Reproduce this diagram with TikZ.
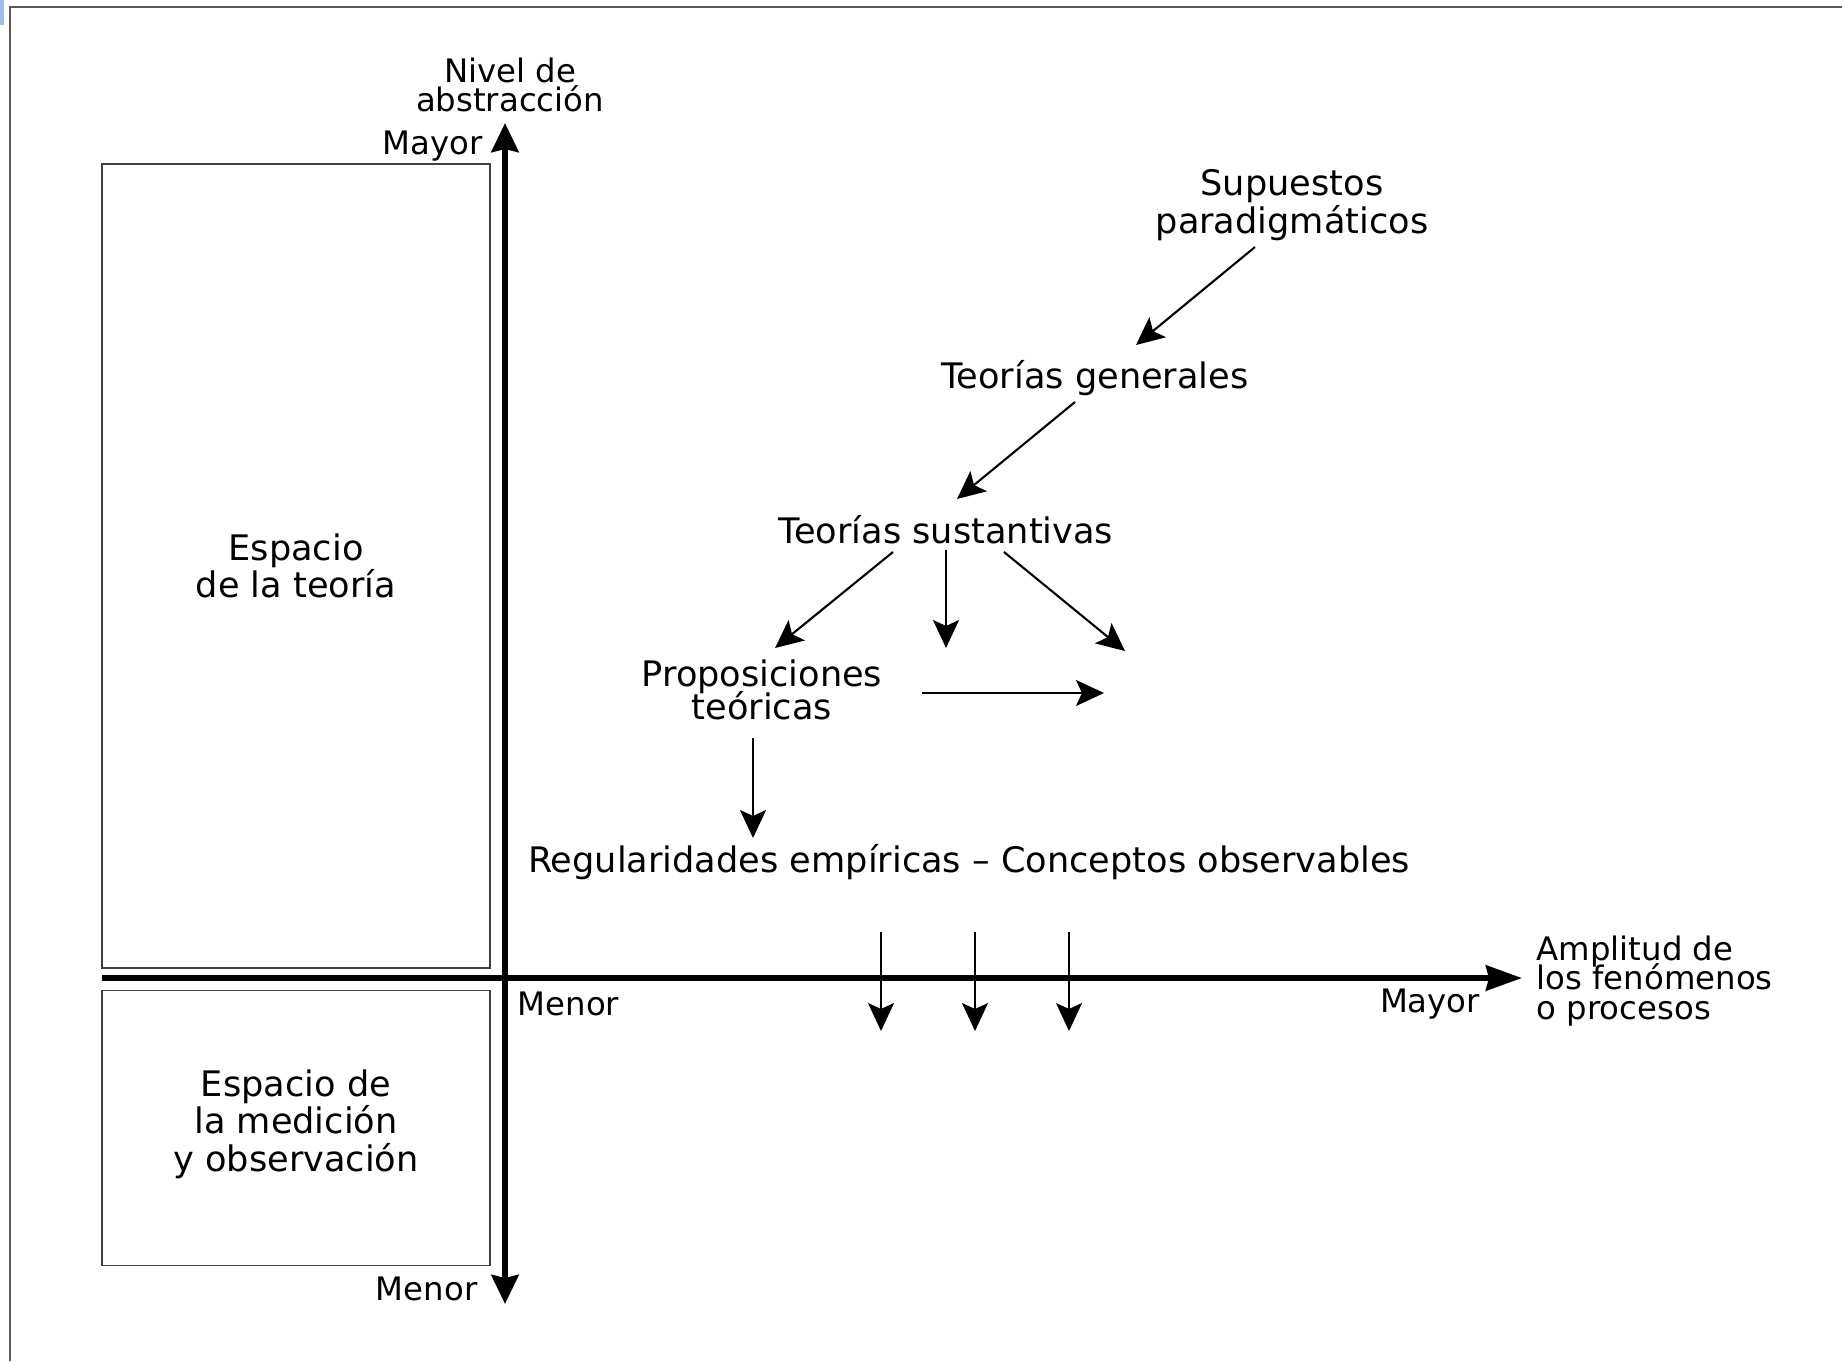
\documentclass[tikz,border=0pt]{standalone}
\usepackage{fontspec}
\setmainfont{DejaVu Sans}
\usepackage{tikz}
\usetikzlibrary{arrows.meta}
\definecolor{marco}{gray}{0.35}
\definecolor{celeste}{RGB}{160,190,230}
\newcommand\sinsalto{\lineskiplimit=-\maxdimen\relax}

\begin{document}
\begin{tikzpicture}[
  lbl/.style={align=center, inner sep=0pt, font=\fontsize{10}{10.7}\selectfont\sinsalto},
  axlbl/.style={inner sep=0pt, font=\fontsize{9.2}{8.3}\selectfont\sinsalto},
  caja/.style={draw=black!75, line width=0.5pt, inner sep=0pt},
  flecha/.style={-{Stealth[length=2.8mm,width=2.6mm,inset=0.6mm]}, line width=0.6pt},
  eje/.style={line width=1.7pt}]
\useasboundingbox (0,0) rectangle (18.42,13.61);
\fill[celeste] (0,13.61) rectangle (0.04,13.36);
\draw[marco, line width=0.6pt] (0.10,0) -- (0.10,13.54) -- (18.42,13.54);

% cajas
\node[caja, minimum width=3.88cm, minimum height=8.04cm] (teoria) at (2.96,7.95) {};
\node[caja, minimum width=3.88cm, minimum height=2.75cm] (medicion) at (2.96,2.33) {};
\node[lbl] (teotxt) at (2.96,7.95) {Espacio\\de la teoría};
\node[lbl] (medtxt) at (2.96,2.37) {Espacio de\\la medición\\y observación};

% ejes
\coordinate (vb) at (5.05,0.57);
\coordinate (vt) at (5.05,12.38);
\coordinate (hl) at (1.02,3.83);
\coordinate (hr) at (15.22,3.83);
\draw[eje, {Stealth[length=2.9mm,width=2.7mm,inset=0.3mm]}-{Stealth[length=2.9mm,width=2.7mm,inset=0.3mm]}] (vb) -- (vt);
\draw[eje, -{Stealth[length=3.6mm,width=2.5mm,inset=0.3mm]}] (hl) -- (hr);

\node[axlbl, align=center] (nivel) at (5.10,12.76) {Nivel de\\abstracción};
\node[axlbl, anchor=east] (mayorv) at (4.83,12.15) {Mayor};
\node[axlbl, anchor=east] (menorv) at (4.78,0.72) {Menor};
\node[axlbl, anchor=west] (menorh) at (5.17,3.57) {Menor};
\node[axlbl] (mayorh) at (14.30,3.57) {Mayor};
\node[axlbl, anchor=west, align=left] (amplitud) at (15.36,3.80) {Amplitud de\\los fenómenos\\o procesos};

% niveles
\node[lbl] (sup) at (12.92,11.56) {Supuestos\\paradigmáticos};
\node[lbl] (tgen) at (10.95,9.83) {Teorías generales};
\node[lbl] (tsus) at (9.46,8.31) {Teorías sustantivas};
\node[lbl, font=\fontsize{10}{9.4}\selectfont\sinsalto] (prop) at (7.62,6.71) {Proposiciones\\teóricas};
\node[lbl] (regul) at (9.69,4.99) {Regularidades empíricas – Conceptos observables};

% flechas
\coordinate (s1) at (12.55,11.14);
\coordinate (g0) at (11.36,10.16);
\coordinate (g1) at (10.75,9.59);
\coordinate (t0) at (9.57,8.62);
\coordinate (t1) at (8.93,8.09);
\coordinate (p0) at (7.75,7.13);
\coordinate (t2) at (9.46,8.11);
\coordinate (d0) at (9.46,7.13);
\coordinate (t3) at (10.04,8.09);
\coordinate (d1) at (11.25,7.10);
\coordinate (p1) at (9.22,6.68);
\coordinate (d2) at (11.04,6.68);
\coordinate (p2) at (7.53,6.23);
\coordinate (r0) at (7.53,5.23);
\draw[flecha] (s1) -- (g0);
\draw[flecha] (g1) -- (t0);
\draw[flecha] (t1) -- (p0);
\draw[flecha] (t2) -- (d0);
\draw[flecha] (t3) -- (d1);
\draw[flecha] (p1) -- (d2);
\draw[flecha] (p2) -- (r0);

\coordinate (o1) at (8.81,4.29);
\coordinate (o2) at (9.75,4.29);
\coordinate (o3) at (10.69,4.29);
\coordinate (m1) at (8.81,3.30);
\coordinate (m2) at (9.75,3.30);
\coordinate (m3) at (10.69,3.30);
\draw[flecha] (o1) -- (m1);
\draw[flecha] (o2) -- (m2);
\draw[flecha] (o3) -- (m3);
\end{tikzpicture}
\end{document}
